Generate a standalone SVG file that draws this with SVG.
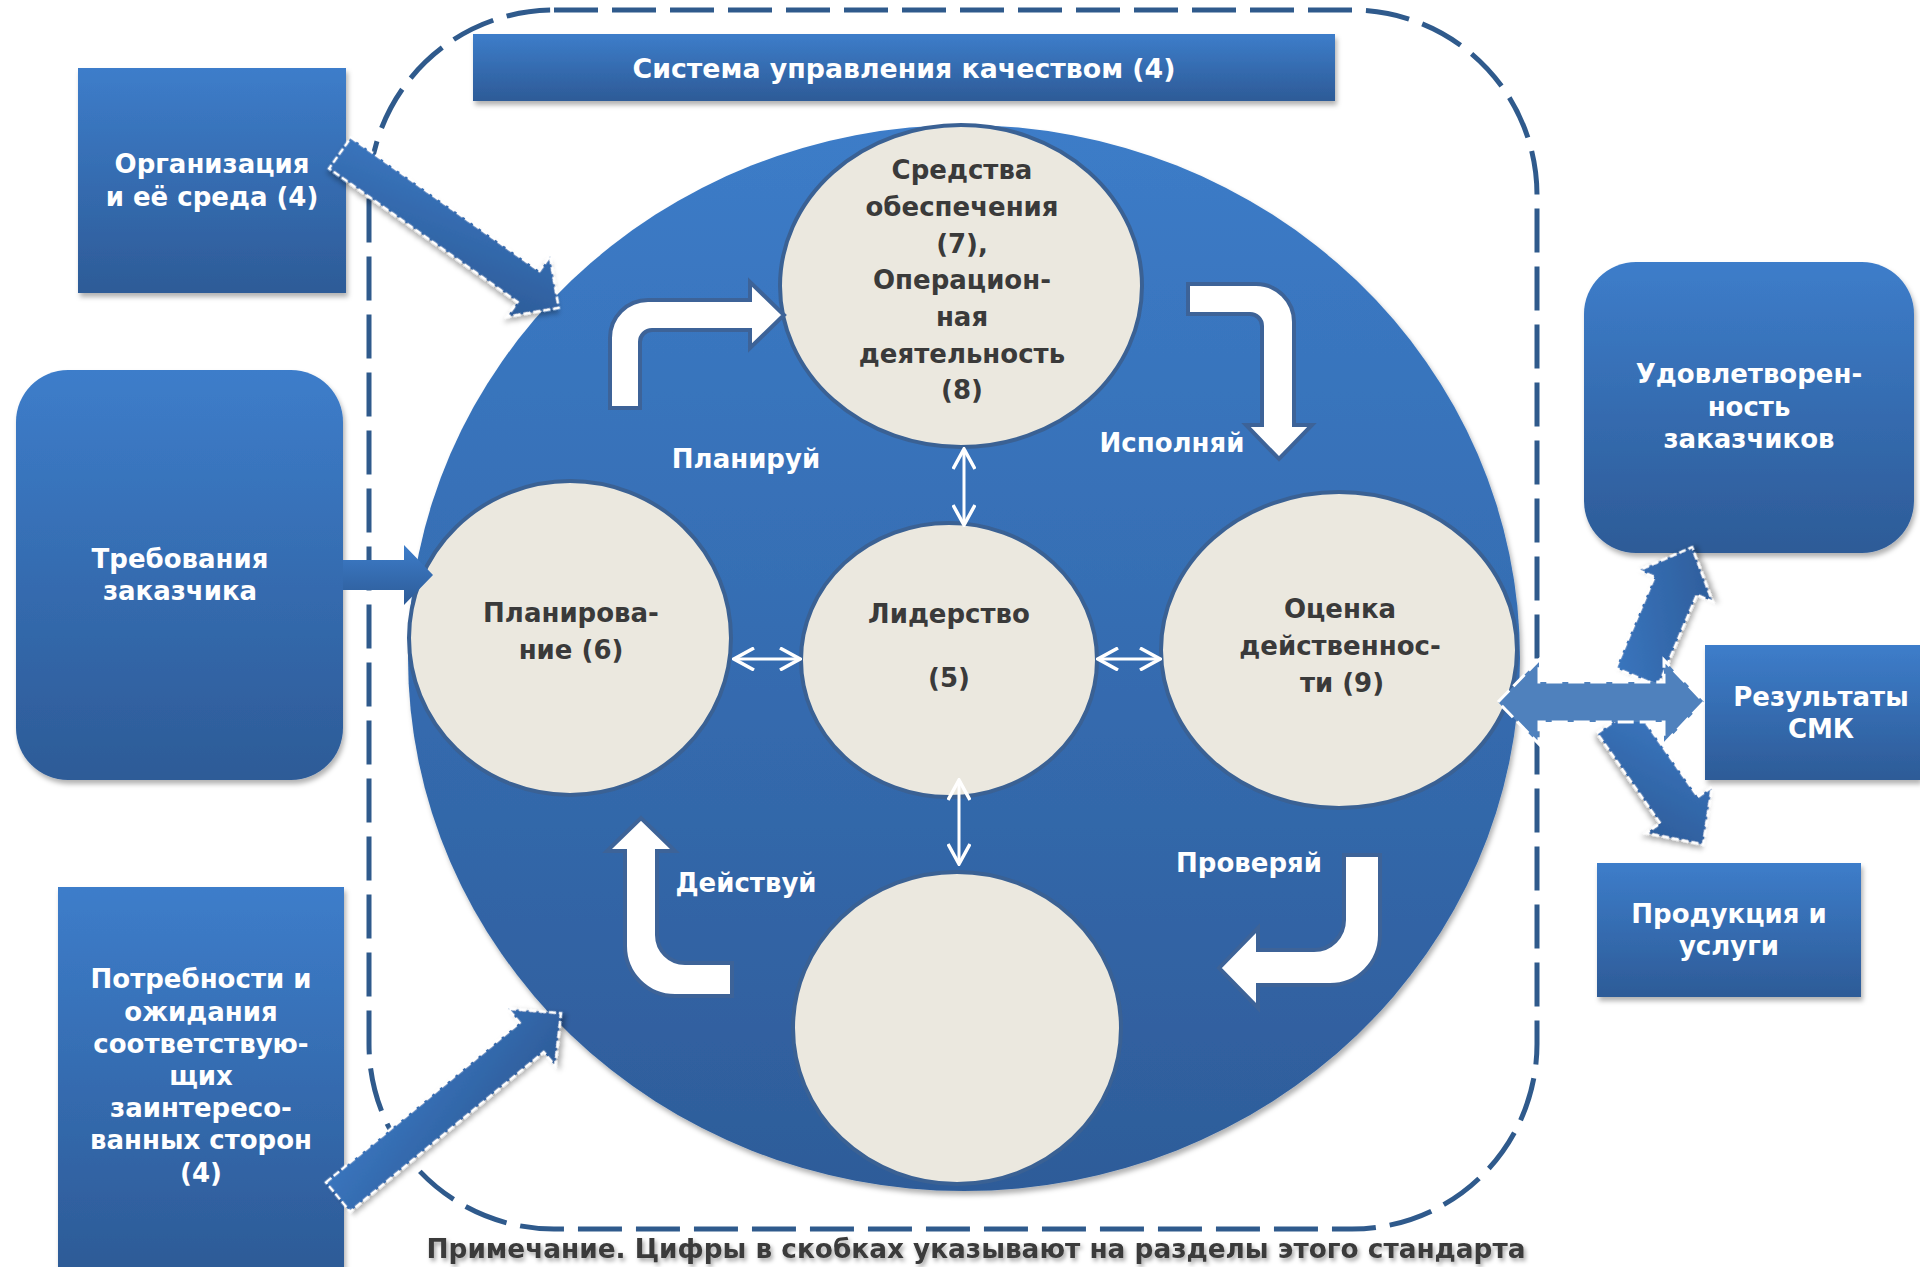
<svg xmlns="http://www.w3.org/2000/svg" width="1920" height="1267" viewBox="0 0 1920 1267">
<defs>
<linearGradient id="gBox" x1="0" y1="0" x2="0" y2="1">
<stop offset="0" stop-color="#3D7DCA"/><stop offset="1" stop-color="#2D5B97"/>
</linearGradient>
<linearGradient id="gBig" x1="0" y1="0" x2="0" y2="1">
<stop offset="0" stop-color="#3C7CC8"/><stop offset="1" stop-color="#2E5C99"/>
</linearGradient>
<linearGradient id="gArr" x1="0" y1="0" x2="1" y2="1">
<stop offset="0" stop-color="#3B78C2"/><stop offset="1" stop-color="#2C5A96"/>
</linearGradient>
<filter id="sh" x="-10%" y="-10%" width="130%" height="130%">
<feDropShadow dx="2" dy="4" stdDeviation="2.5" flood-color="#000" flood-opacity="0.3"/>
</filter>
<filter id="tsh" x="-5%" y="-30%" width="110%" height="170%">
<feDropShadow dx="2" dy="3" stdDeviation="2" flood-color="#000" flood-opacity="0.35"/>
</filter>
<marker id="vh" viewBox="0 0 24 24" refX="22" refY="12" markerWidth="24" markerHeight="24" markerUnits="userSpaceOnUse" orient="auto-start-reverse">
<polyline points="2,1 22,12 2,23" fill="none" stroke="#fff" stroke-width="3.5" stroke-linejoin="miter"/>
</marker>
<style>
.box{fill:url(#gBox);filter:url(#sh);}
.wt{font-family:"DejaVu Sans","Verdana",sans-serif;font-weight:bold;font-size:26px;fill:#fff;text-anchor:middle;}
.dt{font-family:"DejaVu Sans","Verdana",sans-serif;font-weight:bold;font-size:26px;fill:#3A3A3A;text-anchor:middle;}
.lc{fill:#EBE8DF;stroke:#3A6194;stroke-width:4;}
.ca{fill:#fff;stroke:#3D6398;stroke-width:4;stroke-linejoin:miter;}
.ba{fill:url(#gArr);stroke:#fff;stroke-width:2.5;stroke-dasharray:7 3;filter:url(#sh);}
.thin{stroke:#fff;stroke-width:3;fill:none;marker-start:url(#vh);marker-end:url(#vh);}
</style>
</defs>
<rect width="1920" height="1267" fill="#fff"/>

<g id="system-boundary">
<rect x="369" y="10" width="1168" height="1219" rx="185" ry="185" fill="none" stroke="#2F5A8C" stroke-width="5" stroke-dasharray="44 14"/>
</g>

<g id="qms-title">
<rect class="box" x="473" y="34" width="862" height="67"/>
<text class="wt" x="904" y="78" textLength="543" lengthAdjust="spacingAndGlyphs">Система управления качеством (4)</text>
</g>

<g id="pdca-circle">
<ellipse cx="964" cy="658" rx="556" ry="533" fill="url(#gBig)" filter="url(#sh)"/>
</g>

<g id="node-resources">
<ellipse class="lc" cx="961" cy="286" rx="181" ry="161"/>
<text class="dt" x="962" y="179">Средства</text>
<text class="dt" x="962" y="216">обеспечения</text>
<text class="dt" x="962" y="253">(7),</text>
<text class="dt" x="962" y="289">Операцион-</text>
<text class="dt" x="962" y="326">ная</text>
<text class="dt" x="962" y="363">деятельность</text>
<text class="dt" x="962" y="399">(8)</text>
</g>

<g id="node-planning">
<ellipse class="lc" cx="570" cy="638" rx="161" ry="157"/>
<text class="dt" x="571" y="622">Планирова-</text>
<text class="dt" x="571" y="659">ние (6)</text>
</g>

<g id="node-leadership">
<ellipse class="lc" cx="949" cy="660" rx="148" ry="137"/>
<text class="dt" x="949" y="623">Лидерство</text>
<text class="dt" x="949" y="687">(5)</text>
</g>

<g id="node-evaluation">
<ellipse class="lc" cx="1339" cy="650" rx="178" ry="158"/>
<text class="dt" x="1340" y="618">Оценка</text>
<text class="dt" x="1340" y="655">действеннос-</text>
<text class="dt" x="1342" y="692">ти (9)</text>
</g>

<g id="node-improvement">
<ellipse class="lc" cx="957" cy="1028" rx="164" ry="156"/>
</g>

<g id="labels">
<text class="wt" x="746" y="468">Планируй</text>
<text class="wt" x="1172" y="452">Исполняй</text>
<text class="wt" x="1249" y="872">Проверяй</text>
<text class="wt" x="746" y="892">Действуй</text>
</g>

<g id="node-organization">
<rect class="box" x="78" y="68" width="268" height="225"/>
<text class="wt" x="212" y="173">Организация</text>
<text class="wt" x="212" y="206">и её среда (4)</text>
</g>

<g id="node-customer-req">
<rect class="box" x="16" y="370" width="327" height="410" rx="52" ry="52"/>
<text class="wt" x="180" y="568">Требования</text>
<text class="wt" x="180" y="600">заказчика</text>
</g>

<g id="node-stakeholders">
<rect class="box" x="58" y="887" width="286" height="380"/>
<text class="wt" x="201" y="988">Потребности и</text>
<text class="wt" x="201" y="1021">ожидания</text>
<text class="wt" x="201" y="1053">соответствую-</text>
<text class="wt" x="201" y="1085">щих</text>
<text class="wt" x="201" y="1117">заинтересо-</text>
<text class="wt" x="201" y="1149">ванных сторон</text>
<text class="wt" x="201" y="1182">(4)</text>
</g>

<g id="node-satisfaction">
<rect class="box" x="1584" y="262" width="330" height="291" rx="52" ry="52"/>
<text class="wt" x="1749" y="383">Удовлетворен-</text>
<text class="wt" x="1749" y="416">ность</text>
<text class="wt" x="1749" y="448">заказчиков</text>
</g>

<g id="node-results">
<rect class="box" x="1705" y="645" width="215" height="135"/>
<text class="wt" x="1821" y="706">Результаты</text>
<text class="wt" x="1821" y="738">СМК</text>
</g>

<g id="node-products">
<rect class="box" x="1597" y="863" width="264" height="134"/>
<text class="wt" x="1729" y="923">Продукция и</text>
<text class="wt" x="1729" y="955">услуги</text>
</g>

<g id="connectors">
<path class="ca" d="M610 408 L610 338 A38 38 0 0 1 648 300 L750 300 L750 282 L784 315 L750 348 L750 330 L652 330 A12 12 0 0 0 640 342 L640 408 Z"/>
<path class="ca" d="M1188 284 L1256 284 A38 38 0 0 1 1294 322 L1294 425 L1312 425 L1279 459 L1246 425 L1262 425 L1262 326 A12 12 0 0 0 1250 314 L1188 314 Z"/>
<path class="ca" d="M1380 855 L1380 935 A50 50 0 0 1 1330 985 L1258 985 L1258 1008 L1219 968 L1258 928 L1258 950 L1314 950 A30 30 0 0 0 1344 920 L1344 855 Z"/>
<path class="ca" d="M732 996 L675 996 A50 50 0 0 1 625 946 L625 851 L607 851 L641 818 L675 851 L657 851 L657 935 A28 28 0 0 0 685 963 L732 963 Z"/>
<line class="thin" x1="964" y1="449" x2="964" y2="525"/>
<line class="thin" x1="734" y1="659" x2="800" y2="659"/>
<line class="thin" x1="1098" y1="659" x2="1160" y2="659"/>
<line class="thin" x1="959" y1="780" x2="959" y2="864"/>
<polygon class="ba" transform="translate(340 153) rotate(35.3)" points="0,-19 231,-19 231,-37 268,0 231,37 231,19 0,19"/>
<polygon class="ba" transform="translate(338 1197) rotate(-39.5)" points="0,-19 251,-19 251,-37 289,0 251,37 251,19 0,19"/>
<polygon fill="url(#gBox)" points="343,560 404,560 404,545 433,575 404,605 404,590 343,590"/>
<polygon class="ba" transform="translate(1637 677) rotate(-67)" points="0,-23 99,-23 99,-40 141,0 99,40 99,23 0,23"/>
<polygon class="ba" transform="translate(1616 720) rotate(55)" points="0,-23 110,-23 110,-40 152,0 110,40 110,23 0,23"/>
<polygon points="1498,702 1539,660 1539,682 1664,682 1664,660 1704,702 1664,744 1664,722 1539,722 1539,744" fill="#4F81BD" stroke="#fff" stroke-width="3" stroke-dasharray="16 6"/>
</g>

<g id="note">
<text class="dt" x="976" y="1258" fill="#404040" filter="url(#tsh)" textLength="1099" lengthAdjust="spacingAndGlyphs">Примечание. Цифры в скобках указывают на разделы этого стандарта</text>
</g>
</svg>
